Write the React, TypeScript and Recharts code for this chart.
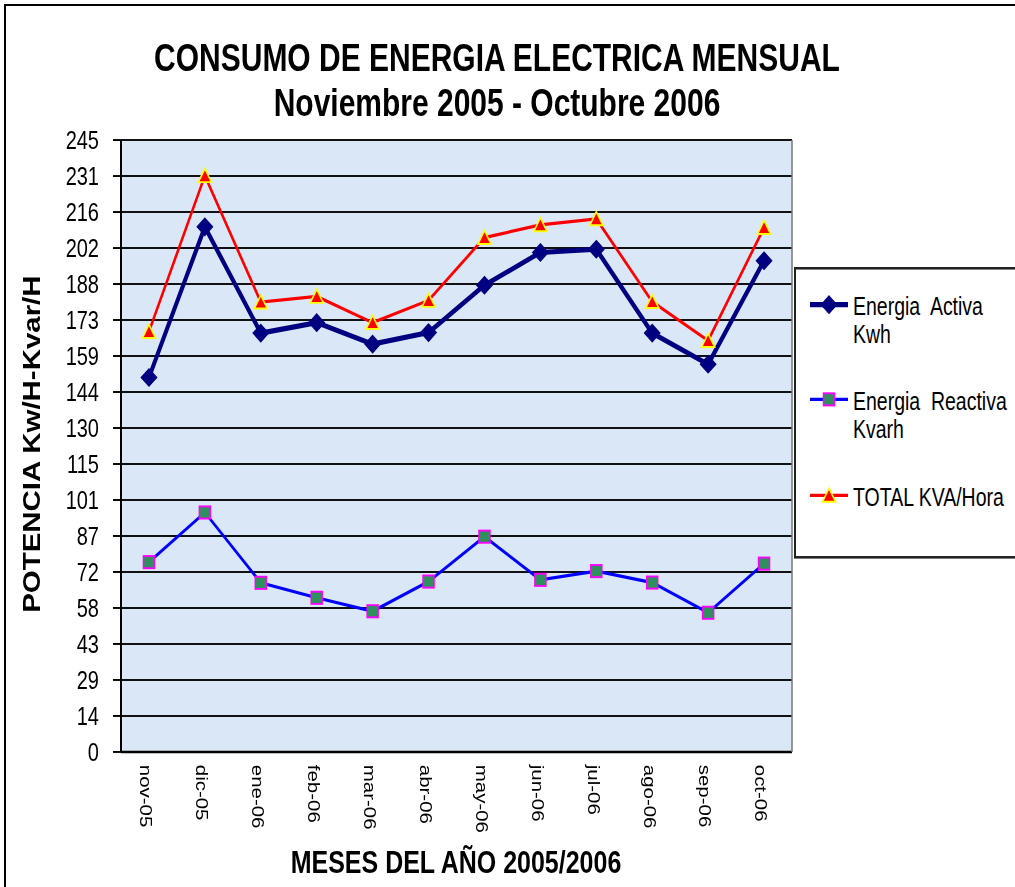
import React from 'react';
import { LineChart, Line, XAxis, YAxis, CartesianGrid } from 'recharts';

const categories = ['nov-05', 'dic-05', 'ene-06', 'feb-06', 'mar-06', 'abr-06', 'may-06', 'jun-06', 'jul-06', 'ago-06', 'sep-06', 'oct-06'];
const activa = [150.1, 210.5, 167.9, 172.1, 163.5, 168.1, 187.1, 200.2, 201.5, 167.9, 155.4, 196.9];
const reactiva = [76.1, 96.0, 67.8, 61.8, 56.4, 68.3, 86.3, 69.0, 72.5, 67.9, 55.8, 75.5];
const total = [168.5, 231.0, 180.3, 182.6, 172.1, 181.0, 206.2, 211.3, 213.7, 180.5, 164.9, 210.2];
const yTickLabels = ['0', '14', '29', '43', '58', '72', '87', '101', '115', '130', '144', '159', '173', '188', '202', '216', '231', '245'];
const Y_MAX = 245.3;

const titleLine1 = 'CONSUMO DE ENERGIA ELECTRICA MENSUAL';
const titleLine2 = 'Noviembre 2005 - Octubre 2006';
const xTitle = 'MESES DEL AÑO 2005/2006';
const yTitle = 'POTENCIA Kw/H-Kvar/H';
const seriesNames = [['Energia  Activa', 'Kwh'], ['Energia  Reactiva', 'Kvarh'], ['TOTAL KVA/Hora']];

const yTicks = yTickLabels.map((_, i) => (Y_MAX * i) / (yTickLabels.length - 1));
const boundaryTicks = categories.map((_, i) => i).concat([categories.length]);
const data = categories.map((m, i) => ({ month: m, activa: activa[i], reactiva: reactiva[i], total: total[i] }));

const FONT = '"Liberation Sans", Arial, sans-serif';
const K = 1.28;
const W = 1015;
const H = 887 / K;

const NAVY = '#000080';
const BLUE = '#0000ff';
const RED = '#ff0000';

function diamond(cx: number, cy: number, key?: string) {
  return (
    <polygon key={key} points={`${cx},${cy - 6.8} ${cx + 7.8},${cy} ${cx},${cy + 6.8} ${cx - 7.8},${cy}`} fill={NAVY} stroke={NAVY} strokeWidth={1} />
  );
}
function square(cx: number, cy: number, key?: string) {
  return <rect key={key} x={cx - 5.5} y={cy - 4.75} width={11} height={9.5} fill="#2f8f5f" stroke="#ff00ff" strokeWidth={1.5} />;
}
function triangle(cx: number, cy: number, key?: string) {
  return (
    <polygon key={key} points={`${cx},${cy - 5.5} ${cx + 6.5},${cy + 5} ${cx - 6.5},${cy + 5}`} fill={RED} stroke="#ffff00" strokeWidth={1.5} />
  );
}

const DiamondDot = (p: any) => (p.cx == null ? null : diamond(p.cx, p.cy, `d${p.index}`));
const SquareDot = (p: any) => (p.cx == null ? null : square(p.cx, p.cy, `s${p.index}`));
const TriangleDot = (p: any) => (p.cx == null ? null : triangle(p.cx, p.cy, `t${p.index}`));

const YTick = (p: any) => (
  <text x={p.x} y={p.y} textAnchor="end" dominantBaseline="central" fontSize={20} fontFamily={FONT} fill="#000">
    {yTickLabels[p.index]}
  </text>
);

const XTick = (p: any) => {
  const x = p.x - 3;
  const y = p.y + 1;
  return (
    <text x={x} y={y} transform={`rotate(90 ${x} ${y})`} textAnchor="start" dominantBaseline="central" fontSize={16} fontFamily={FONT} fill="#000">
      {p.payload.value}
    </text>
  );
};

export default function App() {
  const legendRows = [
    { cy: 238, icon: diamond, color: NAVY, width: 4 },
    { cy: 312, icon: square, color: BLUE, width: 2.5 },
    { cy: 387, icon: triangle, color: RED, width: 2.5 },
  ];
  return (
    <div style={{ position: 'absolute', left: 0, top: 0, width: W, height: 887, overflow: 'hidden', background: '#fff' }}>
      <div style={{ position: 'absolute', left: 0, top: 0, width: W, height: H, transform: `scaleY(${K})`, transformOrigin: '0 0' }}>
        <div style={{ position: 'absolute', left: 0, top: 0 }}>
          <LineChart width={W} height={H} data={data} margin={{ top: 109.4, right: 222, bottom: 44.5, left: 61 }}>
            <CartesianGrid xAxisId="c" yAxisId="l" vertical={false} horizontal stroke="#111" strokeWidth={1.6} fill="#d9e7f6" fillOpacity={1} />
            <XAxis
              xAxisId="b"
              type="number"
              domain={[0, categories.length]}
              ticks={boundaryTicks}
              tick={false}
              tickSize={5}
              height={1}
              stroke="#000"
              axisLine={{ stroke: '#000', strokeWidth: 2 }}
              tickLine={{ stroke: '#000', strokeWidth: 1.5 }}
              allowDataOverflow
            />
            <XAxis xAxisId="c" dataKey="month" scale="band" height={60} axisLine={false} tickLine={false} tick={<XTick />} interval={0} />
            <YAxis
              yAxisId="l"
              type="number"
              domain={[0, Y_MAX]}
              ticks={yTicks}
              width={60}
              tickSize={8}
              tickMargin={14}
              axisLine={{ stroke: '#000', strokeWidth: 2 }}
              tickLine={{ stroke: '#000', strokeWidth: 1.5 }}
              tick={<YTick />}
              interval={0}
              allowDataOverflow
            />
            <YAxis yAxisId="r" orientation="right" width={1} domain={[0, Y_MAX]} tick={false} tickLine={false} axisLine={{ stroke: '#777', strokeWidth: 1.5 }} />
            <Line xAxisId="c" yAxisId="l" dataKey="activa" stroke={NAVY} strokeWidth={4} dot={DiamondDot} activeDot={false} isAnimationActive={false} />
            <Line xAxisId="c" yAxisId="l" dataKey="reactiva" stroke={BLUE} strokeWidth={2.5} dot={SquareDot} activeDot={false} isAnimationActive={false} />
            <Line xAxisId="c" yAxisId="l" dataKey="total" stroke={RED} strokeWidth={2.5} dot={TriangleDot} activeDot={false} isAnimationActive={false} />
          </LineChart>
        </div>
        <svg width={W} height={H} style={{ position: 'absolute', left: 0, top: 0, pointerEvents: 'none' }}>
          <text x={497} y={45} textAnchor="middle" dominantBaseline="central" fontSize={30} fontWeight="bold" fontFamily={FONT} fill="#000">
            {titleLine1}
          </text>
          <text x={497} y={80.5} textAnchor="middle" dominantBaseline="central" fontSize={30} fontWeight="bold" fontFamily={FONT} fill="#000">
            {titleLine2}
          </text>
          <text x={456} y={673.4} textAnchor="middle" dominantBaseline="central" fontSize={25} fontWeight="bold" fontFamily={FONT} fill="#000">
            {xTitle}
          </text>
          <text x={32} y={347} transform="rotate(-90 32 347)" textAnchor="middle" dominantBaseline="central" fontSize={23} fontWeight="bold" fontFamily={FONT} fill="#000">
            {yTitle}
          </text>
          <rect x={795} y={209.6} width={260} height={225.8} fill="#fff" stroke="#222" strokeWidth={2} />
          {legendRows.map((r, i) => (
            <g key={i}>
              <line x1={810} y1={r.cy} x2={848} y2={r.cy} stroke={r.color} strokeWidth={r.width} />
              {r.icon(829, r.cy)}
              {seriesNames[i].map((t, j) => (
                <text key={j} x={853} y={r.cy + 1.5 + j * 22} dominantBaseline="central" fontSize={19.5} fontFamily={FONT} fill="#000" style={{ whiteSpace: 'pre' }}>
                  {t}
                </text>
              ))}
            </g>
          ))}
        </svg>
      </div>
      <div style={{ position: 'absolute', left: 4, top: 4, width: 1100, height: 1000, border: '2px solid #000', pointerEvents: 'none' }} />
    </div>
  );
}
